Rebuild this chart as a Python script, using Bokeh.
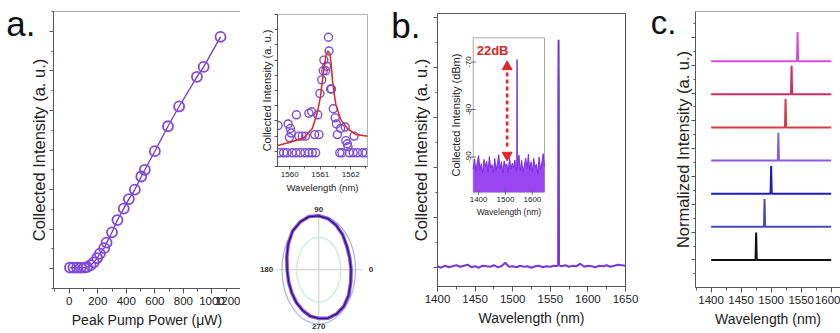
import math
from bokeh.plotting import figure
from bokeh.models import Range1d, SingleIntervalTicker, Span, LinearAxis, FixedTicker
from bokeh.layouts import row, column
from bokeh.embed import file_html
from bokeh.resources import INLINE
from bokeh.core.properties import value

FONT = "Liberation Sans"
AX = "#555555"
TXT = "#222222"

# ---------------- data ----------------
# panel a: light-in / light-out
pump_power = [5, 30, 55, 80, 105, 125, 150, 172, 196, 215, 245, 262, 300, 338, 382,
              418, 460, 505, 530, 600, 692, 770, 895, 942, 1060]
pump_intensity = [0.03, 0.03, 0.03, 0.03, 0.03, 0.04, 0.09, 0.16, 0.27, 0.38, 0.52, 0.66,
                  0.92, 1.23, 1.52, 1.76, 2.0, 2.33, 2.5, 2.97, 3.6, 4.1, 4.85, 5.1, 5.86]

# panel a inset: lasing line (points) and Lorentzian fit (curve)
line_wl = [1559.62, 1559.66, 1559.80, 1559.91, 1559.95, 1560.02, 1560.05, 1559.99, 1560.08,
           1560.21, 1560.22, 1560.30, 1560.35, 1560.41, 1560.50, 1560.52, 1560.63, 1560.63,
           1560.72, 1560.74, 1560.82, 1560.85, 1560.92, 1560.96, 1560.99, 1561.05, 1561.10,
           1561.12, 1561.18, 1561.21, 1561.27, 1561.29, 1561.34, 1561.37, 1561.43, 1561.49,
           1561.53, 1561.56, 1561.64, 1561.67, 1561.71, 1561.82, 1561.84, 1561.89, 1561.91,
           1561.95, 1562.08, 1562.11, 1562.22, 1562.39, 1562.50]
line_int = [0.27, 0.09, 0.09, 0.09, 0.28, 0.25, 0.22, 0.19, 0.09,
            0.09, 0.34, 0.20, 0.09, 0.20, 0.09, 0.20, 0.35, 0.09,
            0.36, 0.09, 0.21, 0.09, 0.34, 0.21, 0.48, 0.57, 0.63,
            0.70, 0.63, 0.66, 0.85, 0.76, 0.51, 0.51, 0.38, 0.32,
            0.28, 0.21, 0.09, 0.25, 0.09, 0.26, 0.17, 0.15, 0.13,
            0.09, 0.09, 0.20, 0.09, 0.09, 0.09]
fit_wl = [1559.60, 1560.02, 1560.47, 1560.74, 1560.90, 1561.01, 1561.05, 1561.10, 1561.15,
          1561.19, 1561.25, 1561.32, 1561.36, 1561.40, 1561.45, 1561.51, 1561.67, 1561.89,
          1562.17, 1562.55]
fit_int = [0.138, 0.16, 0.19, 0.25, 0.35, 0.46, 0.53, 0.61, 0.68,
           0.73, 0.76, 0.74, 0.67, 0.57, 0.49, 0.41, 0.31, 0.25,
           0.21, 0.20]

# panel a polar: emission vs polarisation angle
polar_angle_deg = [0, 15, 30, 45, 60, 75, 90, 105, 120, 135, 150, 165,
                   180, 195, 210, 225, 240, 255, 270, 285, 300, 315, 330, 345]
polar_r = [0.88, 0.87, 0.88, 0.92, 0.95, 0.98, 1.00, 1.02, 1.02, 1.01, 0.96, 0.90,
           0.86, 0.85, 0.85, 0.86, 0.87, 0.89, 0.90, 0.93, 0.95, 0.96, 0.94, 0.90]
polar_ticks = [0, 90, 180, 270]

# panel b: full spectrum
b_wl = [1400, 1405, 1410, 1415, 1420, 1425, 1430, 1435, 1440, 1445, 1450, 1455, 1460, 1465,
        1470, 1475, 1480, 1485, 1490, 1495, 1500, 1505, 1510, 1515, 1520, 1525, 1530, 1535,
        1540, 1545, 1550, 1555,
        1559, 1560.4, 1560.7, 1561, 1561.3, 1561.6, 1563,
        1565, 1570, 1575, 1580, 1585, 1590, 1595, 1600, 1605, 1610, 1615, 1620, 1625, 1630,
        1635, 1640, 1645, 1650]
b_int = [0.02, -0.01, 0.03, 0.0, 0.02, 0.04, 0.01, 0.03, 0.05, 0.0, 0.02, -0.01, 0.03, 0.02,
         0.01, 0.04, 0.0, 0.02, 0.09, 0.01, 0.02, 0.0, 0.03, 0.01, 0.02, -0.01, 0.02, 0.03,
         0.0, 0.02, 0.01, 0.03,
         0.02, 0.05, 3.6, 4.55, 3.6, 0.05, 0.03,
         0.02, 0.04, 0.01, 0.03, 0.02, 0.07, 0.01, 0.03, 0.02, 0.0, 0.03, 0.02, 0.04, 0.01,
         0.03, 0.05, 0.04, 0.03]

# panel b inset: spectrum in dBm
inset_wl = [1380, 1385, 1390, 1395, 1400, 1405, 1410, 1415, 1420, 1425, 1430, 1435, 1440,
            1445, 1450, 1455, 1460, 1465, 1470, 1475, 1480, 1485, 1490, 1495, 1500, 1505,
            1510, 1515, 1520, 1525, 1530, 1535, 1540,
            1542, 1543, 1544,
            1545, 1550, 1555, 1560, 1565, 1570, 1575, 1580, 1585, 1590, 1595, 1600, 1605,
            1610, 1615, 1620, 1625, 1630, 1635, 1640, 1645]
inset_dbm = [-92.6, -90.4, -93.0, -91.1, -89.7, -92.7, -91.4, -93.3, -90.5, -92.0, -90.9, -93.1,
             -89.9, -92.3, -91.6, -93.2, -90.3, -92.8, -91.2, -89.5, -92.5, -91.0, -93.4, -90.8,
             -91.9, -91.5, -93.3, -90.1, -92.6, -91.3, -92.2, -90.6, -93.0,
             -92.0, -69.5, -92.4,
             -91.1, -89.6, -92.9, -90.7, -93.2, -91.8, -90.2, -92.5, -89.4, -92.8, -91.0, -93.1,
             -90.3, -92.2, -91.5, -93.4, -90.0, -92.6, -91.2, -89.3, -92.0]
inset_xticks = [1400, 1500, 1600]
inset_yticks = [-70, -80, -90]
contrast_text = "22dB"
contrast_wl = 1506
contrast_top = -71.0
contrast_bottom = -89.6

# panel c: tuned lasing lines (stacked)
c_span = [1400, 1600]
c_centers = [1475, 1489, 1500, 1512, 1524, 1534, 1544]
c_heights = [0.83, 0.84, 0.84, 0.84, 0.86, 0.86, 0.88]
c_offsets = [0, 1, 2, 3, 4, 5, 6]
c_colors = ["#111111", "#4a4ab4", "#1c1cc0", "#8a5ce2", "#d43c44", "#d42c64", "#dc4cdc"]

assert len(b_wl) == len(b_int)
assert len(inset_wl) == len(inset_dbm)
assert len(line_wl) == len(line_int)
assert len(fit_wl) == len(fit_int)


# ---------------- helpers ----------------
def make_fig(w, h, xr, yr, left, right, top, bottom, **kw):
    p = figure(width=w, height=h, x_range=xr, y_range=yr, output_backend="svg",
               toolbar_location=None, min_border_left=left, min_border_right=right,
               min_border_top=top, min_border_bottom=bottom, **kw)
    p.frame_align = False
    p.outline_line_color = None
    p.background_fill_color = "white"
    p.border_fill_color = "white"
    return p


def style_axis(ax, label, label_size, tick_size, show_labels=True,
               tick_out=5, minor_out=3, label_standoff=3, axis_standoff=0):
    ax.axis_label = label
    ax.axis_label_text_font = FONT
    ax.axis_label_text_font_size = label_size
    ax.axis_label_text_font_style = "normal"
    ax.axis_label_text_color = TXT
    ax.major_label_text_font = FONT
    if show_labels:
        ax.major_label_text_font_size = tick_size
        ax.major_label_text_color = TXT
        ax.major_label_standoff = label_standoff
    else:
        ax.major_label_text_font_size = "1px"
        ax.major_label_text_color = None
        ax.major_label_standoff = 0
    ax.axis_label_standoff = axis_standoff
    ax.axis_line_color = AX
    ax.major_tick_line_color = AX
    ax.minor_tick_line_color = AX
    ax.major_tick_out = tick_out
    ax.major_tick_in = 0
    ax.minor_tick_out = minor_out
    ax.minor_tick_in = 0


def panel_letter(p, text, size, standoff):
    ax = LinearAxis(axis_label="\n" + text, axis_label_orientation="horizontal",
                    axis_label_align="end", axis_label_standoff=standoff,
                    axis_label_text_font=FONT, axis_label_text_font_size=size,
                    axis_label_text_line_height=0.6,
                    axis_label_text_font_style="normal", axis_label_text_color="#111111",
                    ticker=FixedTicker(ticks=[]),
                    axis_line_color=None, major_tick_line_color=None,
                    minor_tick_line_color=None, major_label_text_color=None,
                    major_label_text_font_size="1px", major_label_standoff=0,
                    major_tick_out=0, major_tick_in=0, minor_tick_out=0, minor_tick_in=0)
    p.add_layout(ax, "left")


# ---------------- panel a ----------------
pa = make_fig(240, 333, Range1d(-110, 1200), Range1d(-0.5, 6.5), 53, 0, 11, 45)
pa.xgrid.visible = False
pa.ygrid.visible = False
pa.xaxis.ticker = SingleIntervalTicker(interval=200, num_minor_ticks=2)
pa.yaxis.ticker = SingleIntervalTicker(interval=1, num_minor_ticks=2)
style_axis(pa.xaxis[0], "Peak Pump Power (\u03bcW)", "14px", "11.5px", axis_standoff=4)
style_axis(pa.yaxis[0], "Collected Intensity (a. u.)", "16.5px", None, show_labels=False,
           tick_out=4, minor_out=2, axis_standoff=2)
pa.add_layout(Span(location=pa.y_range.end, dimension="width", line_color=AX, line_width=1))
pa.line(pump_power, pump_intensity, line_color="#6a3cc8", line_width=1.3)
pa.scatter(pump_power, pump_intensity, marker="circle", size=10, fill_color=None,
           line_color="#8048dc", line_width=1.8)
panel_letter(pa, "a.", "35px", -9)

# ---------------- panel a inset spectrum ----------------
pa2 = make_fig(140, 200, Range1d(1559.6, 1562.55), Range1d(0, 1), 37, 13, 14, 34)
pa2.xgrid.visible = False
pa2.ygrid.visible = False
pa2.outline_line_color = "#b4b4b4"
pa2.xaxis.ticker = SingleIntervalTicker(interval=1, num_minor_ticks=2)
pa2.yaxis.ticker = SingleIntervalTicker(interval=0.1, num_minor_ticks=0)
style_axis(pa2.xaxis[0], "Wavelength (nm)", "9.5px", "8px", tick_out=3, minor_out=2,
           label_standoff=2, axis_standoff=2)
style_axis(pa2.yaxis[0], "Collected Intensity (a. u.)", "11px", None, show_labels=False,
           tick_out=3, minor_out=2, axis_standoff=2)
pa2.scatter(line_wl, line_int, marker="circle", size=8, fill_color=None,
            line_color="#7c4cd8", line_width=1.4)
pa2.line(fit_wl, fit_int, line_color="#d8302a", line_width=1.6)

# ---------------- panel a polar ----------------
pp = make_fig(140, 133, Range1d(-2.13, 1.68), Range1d(-1.18, 1.283), 0, 0, 0, 0,
              x_axis_type=None, y_axis_type=None)
pp.segment(x0=[-1.15, 0], y0=[0, -1.0], x1=[1.2, 0], y1=[0, 1.05], line_color="#cccccc",
           line_width=1)
pp.ellipse(x=[0, 0], y=[0, 0], width=[2.0, 1.2], height=[2.0, 1.2], fill_color=None,
           line_color=["#a4b2ea", "#c6ecd2"], line_width=1.2)
rad = [math.radians(a) for a in polar_angle_deg] + [math.radians(polar_angle_deg[0])]
rr = polar_r + [polar_r[0]]
px = [r * math.cos(t) for r, t in zip(rr, rad)]
py = [r * math.sin(t) for r, t in zip(rr, rad)]
pp.line(px, py, line_color="#8c52ea", line_width=3.6)
pp.line(px, py, line_color="#2c1464", line_width=1.3)
lab_t = [math.radians(a) for a in polar_ticks]
lab_x = [1.42 * math.cos(t) for t in lab_t]
lab_y = [math.sin(t) * (1.12 if math.sin(t) > 0 else 1.05) for t in lab_t]
pp.text(x=lab_x, y=lab_y, text=[str(a) for a in polar_ticks], text_font=value(FONT),
        text_font_size="8px", text_font_style="bold", text_color="#333333",
        text_align="center", text_baseline="middle")

# ---------------- panel b ----------------
pb = make_fig(260, 333, Range1d(1400, 1650), Range1d(-0.386, 5.074), 57, 15, 13, 47)
pb.xgrid.visible = False
pb.ygrid.visible = False
pb.outline_line_color = AX
pb.xaxis.ticker = SingleIntervalTicker(interval=50, num_minor_ticks=2)
pb.yaxis.ticker = SingleIntervalTicker(interval=1, num_minor_ticks=2)
style_axis(pb.xaxis[0], "Wavelength (nm)", "14px", "11.5px", axis_standoff=4)
style_axis(pb.yaxis[0], "Collected Intensity (a. u.)", "16.5px", None, show_labels=False,
           tick_out=4, minor_out=2, axis_standoff=4)
pb.line(b_wl, b_int, line_color="#7a38da", line_width=2)
panel_letter(pb, "b.", "35px", -12)

ix = Range1d(1380, 1645)
iy = Range1d(-97.4, -64.9)
sub = pb.subplot(x_source=ix, y_source=iy,
                 x_target=Range1d(1447.5, 1542.3), y_target=Range1d(1.5, 4.588))
sub.quad(left=[ix.start], right=[ix.end], bottom=[iy.start], top=[iy.end],
         fill_color="white", line_color="#a8a8a8", line_width=1)
sub.varea(x=inset_wl, y1=[iy.start] * len(inset_wl), y2=inset_dbm, fill_color="#9a44f2")
sub.line(inset_wl, inset_dbm, line_color="#7a2ee0", line_width=1)
sub.scatter(x=[ix.start] * len(inset_yticks), y=inset_yticks, marker="dash", size=5,
            line_color="#666666")
sub.scatter(x=inset_xticks, y=[iy.start] * len(inset_xticks), marker="dash", size=5,
            angle=math.pi / 2, line_color="#666666")
sub.text(x=[ix.start] * len(inset_yticks), y=inset_yticks, text=[str(t) for t in inset_yticks],
         angle=math.pi / 2, x_offset=-2, text_align="center", text_baseline="bottom",
         text_font=value(FONT), text_font_size="8px", text_color=TXT)
sub.text(x=inset_xticks, y=[iy.start] * len(inset_xticks), text=[str(t) for t in inset_xticks],
         y_offset=5, text_align="center", text_baseline="top",
         text_font=value(FONT), text_font_size="8px", text_color=TXT)
sub.text(x=[(ix.start + ix.end) / 2], y=[iy.start], text=["Wavelength (nm)"], y_offset=15,
         text_align="center", text_baseline="top", text_font=value(FONT),
         text_font_size="8.5px", text_color=TXT)
sub.text(x=[ix.start], y=[(iy.start + iy.end) / 2], text=["Collected Intensity (dBm)"],
         angle=math.pi / 2, x_offset=-17, text_align="center", text_baseline="middle",
         text_font=value(FONT), text_font_size="11px", text_color=TXT)
RED = "#e2282a"
sub.line(x=[contrast_wl, contrast_wl], y=[contrast_top - 1.2, contrast_bottom + 1.2],
         line_color=RED, line_width=2.6, line_dash="4 3")
sub.scatter(x=[contrast_wl], y=[contrast_top], marker="triangle", size=10, color=RED)
sub.scatter(x=[contrast_wl], y=[contrast_bottom], marker="inverted_triangle", size=10, color=RED)
sub.text(x=[1393], y=[-66.0], text=[contrast_text], text_align="left", text_baseline="top",
         text_font=value(FONT), text_font_size="13px", text_font_style="bold",
         text_color="#d42a2a")

# ---------------- panel c ----------------
pc = make_fig(200, 333, Range1d(1374, 1615.5), Range1d(-0.83, 7.5), 55, 0, 11, 46)
pc.xgrid.visible = False
pc.ygrid.visible = False
pc.xaxis.ticker = SingleIntervalTicker(interval=50, num_minor_ticks=2)
pc.yaxis.ticker = SingleIntervalTicker(interval=0.84, num_minor_ticks=2)
style_axis(pc.xaxis[0], "Wavelength (nm)", "14px", "11.5px", axis_standoff=4)
style_axis(pc.yaxis[0], "Normalized Intensity (a. u.)", "16.5px", None, show_labels=False,
           tick_out=4, minor_out=2, axis_standoff=0)
pc.add_layout(Span(location=pc.y_range.end, dimension="width", line_color=AX, line_width=1))
for cen, h, off, col in zip(c_centers, c_heights, c_offsets, c_colors):
    pc.line([c_span[0], cen - 1, cen, cen + 1, c_span[1]], [off, off, off + h, off, off],
            line_color=col, line_width=2)
panel_letter(pc, "c.", "33px", -6)

layout = row(pa, column(pa2, pp), pb, pc)
open("out.html", "w").write(file_html(layout, INLINE))
